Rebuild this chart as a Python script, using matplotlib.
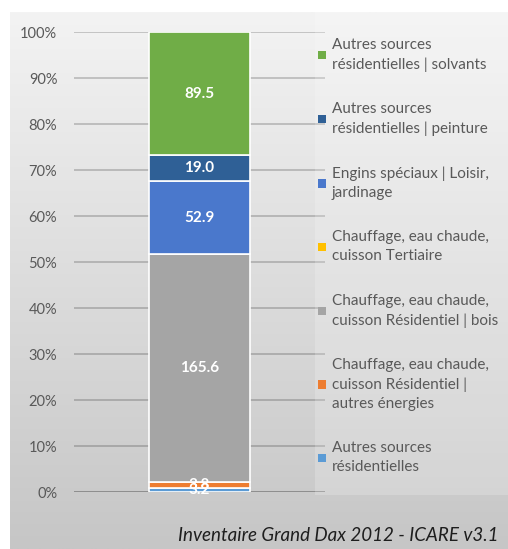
import numpy as np
import matplotlib.pyplot as plt
from matplotlib.patches import Patch, Rectangle
from matplotlib.colors import LinearSegmentedColormap

plt.rcParams['font.family'] = ['Lato', 'DejaVu Sans']

# emissions by source (stacked from bottom to top)
sources = [
    "Autres sources\nrésidentielles",
    "Chauffage, eau chaude,\ncuisson Résidentiel |\nautres énergies",
    "Chauffage, eau chaude,\ncuisson Résidentiel | bois",
    "Chauffage, eau chaude,\ncuisson Tertiaire",
    "Engins spéciaux | Loisir,\njardinage",
    "Autres sources\nrésidentielles | peinture",
    "Autres sources\nrésidentielles | solvants",
]
values = [3.2, 3.8, 165.6, 0.0, 52.9, 19.0, 89.5]
colors = ['#5b9bd5', '#ed7d31', '#a5a5a5', '#ffc000', '#4a78cc', '#2f6096', '#70ad47']
yticks = [0, 0.1, 0.2, 0.3, 0.4, 0.5, 0.6, 0.7, 0.8, 0.9, 1.0]

W, H = 508, 549
fig = plt.figure(figsize=(W / 100, H / 100), dpi=100)
fig.patch.set_facecolor('white')

# grey gradient background of the chart area
bg = fig.add_axes([10 / W, 0, 1 - 10 / W, 1 - 12 / H])
grad = np.linspace(0, 1, 256)[:, None]
bg.imshow(grad, cmap=LinearSegmentedColormap.from_list('g', ['#f3f3f3', '#c6c6c6']),
          aspect='auto', extent=[0, 1, 0, 1], origin='upper')
bg.set_axis_off()

# lighter panel behind the legend
fig.patches.append(Rectangle((315 / W, 1 - 495 / H), 1 - 315 / W, (495 - 12) / H,
                             transform=fig.transFigure, facecolor='white',
                             alpha=0.2, edgecolor='none', zorder=1))

ax = fig.add_axes([74 / W, 1 - 492 / H, (325 - 74) / W, 460 / H])
ax.patch.set_alpha(0)

total = sum(values)
bottom = 0.0
for v, c, name in zip(values, colors, sources):
    p = v / total
    ax.bar(0, p, width=0.4, bottom=bottom, color=c, edgecolor='white',
           linewidth=1.2, label=name, zorder=3)
    if v > 0:
        ax.text(0, bottom + p / 2, f"{v:.1f}", ha='center', va='center',
                color='white', fontsize=11, fontweight='bold', zorder=4)
    bottom += p

ax.set_xlim(-0.5, 0.5)
ax.set_ylim(0, 1)
ax.set_yticks(yticks)
ax.set_yticklabels([f"{int(round(t * 100))}%" for t in yticks])
ax.set_xticks([])
ax.tick_params(axis='y', length=0, pad=12, labelsize=10.5, labelcolor='#595959')
for s in ax.spines.values():
    s.set_visible(False)
for t in yticks:
    ax.axhline(t, color='#000000', alpha=0.22 if t > 0 else 0.35, lw=1.2, zorder=1)

handles = [Patch(facecolor=c, edgecolor='none') for c in colors][::-1]
leg = fig.legend(handles, sources[::-1], loc='upper left',
                 bbox_to_anchor=(318 / W, 1 - 38 / H), frameon=False,
                 fontsize=11, labelcolor='#595959', handlelength=0.5,
                 handleheight=0.5, handletextpad=0.4, labelspacing=2.0,
                 borderpad=0, borderaxespad=0)
for t in leg.get_texts():
    t.set_linespacing(1.45)

fig.text(499 / W, 1 - 541 / H, "Inventaire Grand Dax 2012 - ICARE v3.1",
         ha='right', va='baseline', style='italic', fontsize=13.5, color='#1e1e1e')

fig.savefig('out.png', dpi=100)
